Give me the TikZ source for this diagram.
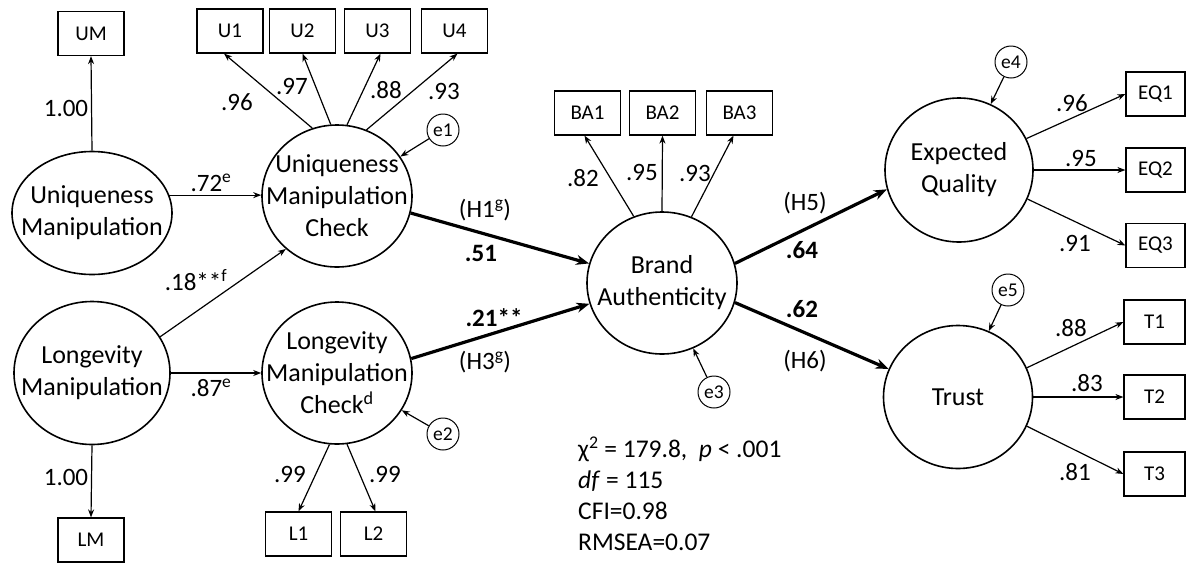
\documentclass[tikz,border=0pt]{standalone}
\usepackage{fontspec}
\setmainfont{Carlito}
\usetikzlibrary{shapes.geometric,arrows.meta}

\begin{document}
\begin{tikzpicture}[x=1pt,y=-1pt,
    latent/.style={ellipse,draw,line width=1.6pt,inner sep=0pt,minimum width=150pt,minimum height=142pt,
        label={[align=center,font=\fontsize{26}{32}\selectfont]center:#1}},
    ind/.style={draw,line width=1.2pt,minimum width=66pt,minimum height=44pt,inner sep=0pt,font=\fontsize{21}{24}\selectfont},
    err/.style={circle,draw,line width=1pt,minimum size=32pt,inner sep=0pt,font=\fontsize{19.5}{20}\selectfont},
    load/.style={line width=1.2pt,-{Stealth[length=8pt,width=6pt]}},
    hyp/.style={line width=3.2pt,-{Stealth[length=13pt,width=10pt]}},
    coef/.style={inner sep=0pt,font=\fontsize{25}{28}\selectfont}]
    \useasboundingbox (0,0) rectangle (1186,563);

    % latent variables
    \node[latent={Uniqueness\\Manipulation},minimum width=160pt,minimum height=123pt] (UMan) at (92,213) {};
    \node[latent={Longevity\\Manipulation},minimum width=156pt,minimum height=143pt] (LMan) at (92,373) {};
    \node[latent={Uniqueness\\Manipulation\\Check}] (UMC) at (337,196) {};
    \node[latent={Longevity\\Manipulation\\Check\textsuperscript{d}}] (LMC) at (337,373) {};
    \node[latent={Brand\\Authenticity}] (BA) at (662,283) {};
    \node[latent={Expected\\Quality},minimum width=148pt,minimum height=144pt] (EQ) at (959,170) {};
    \node[latent={Trust},minimum width=149pt,minimum height=143pt] (Trust) at (958,397) {};

    % indicators
    \node[ind] (UM) at (91,33.5) {UM};
    \node[ind] (LM) at (91,540) {LM};
    \node[ind] (U1) at (230,31) {U1};
    \node[ind] (U2) at (302.5,31) {U2};
    \node[ind] (U3) at (377.5,31) {U3};
    \node[ind] (U4) at (454.5,31) {U4};
    \node[ind] (L1) at (298.5,534) {L1};
    \node[ind] (L2) at (373.5,534) {L2};
    \node[ind] (BA1) at (587.5,113) {BA1};
    \node[ind] (BA2) at (662.5,113) {BA2};
    \node[ind] (BA3) at (739.5,113) {BA3};
    \node[ind,minimum width=59pt] (EQ1) at (1155.5,94) {EQ1};
    \node[ind,minimum width=59pt] (EQ2) at (1155.5,170) {EQ2};
    \node[ind,minimum width=59pt] (EQ3) at (1155.5,245.5) {EQ3};
    \node[ind,minimum width=61pt] (T1) at (1154.5,322) {T1};
    \node[ind,minimum width=61pt] (T2) at (1154.5,397) {T2};
    \node[ind,minimum width=61pt] (T3) at (1154.5,474) {T3};

    % error terms
    \node[err] (e1) at (443,130) {e1};
    \node[err] (e2) at (443,434) {e2};
    \node[err] (e3) at (714,392) {e3};
    \node[err] (e4) at (1011,62) {e4};
    \node[err] (e5) at (1008,290) {e5};

    % loadings
    \draw[load] (UMan.north) -- (UM.south);
    \draw[load] (LMan.south) -- (LM.north);
    \draw[load] (UMC.110) -- ([xshift=-6pt]U1.south);
    \draw[load] (UMC.95) -- (U2.south);
    \draw[load] (UMC.82) -- ([xshift=3pt]U3.south);
    \draw[load] (UMC.66) -- ([xshift=3pt]U4.south);
    \draw[load] (LMC.264) -- (L1.north);
    \draw[load] (LMC.278) -- ([xshift=2pt]L2.north);
    \draw[load] (BA.113) -- ([xshift=-3pt]BA1.south);
    \draw[load] (BA.90) -- (BA2.south);
    \draw[load] (BA.66) -- ([xshift=-6pt]BA3.south);
    \draw[load] (EQ.25) -- (EQ1.west);
    \draw[load] (EQ.east) -- (EQ2.west);
    \draw[load] (EQ.-23) -- (EQ3.west);
    \draw[load] (Trust.23) -- (T1.west);
    \draw[load] (Trust.east) -- (T2.west);
    \draw[load] (Trust.-23) -- (T3.west);

    % manipulation paths
    \draw[load] (UMan.13) -- (UMan.13 -| UMC.west);
    \draw[load] (LMan.east) -- (LMC.west);
    \draw[load] (LMan.28) -- (UMC.226);

    % error arrows
    \draw[load] (e1) -- (UMC);
    \draw[load] (e2) -- (LMC);
    \draw[load] (e3) -- (BA);
    \draw[load] (e4) -- (EQ);
    \draw[load] (e5) -- (Trust);

    % hypotheses
    \draw[hyp] (UMC.-13) -- (BA.165);
    \draw[hyp] (LMC.11) -- (BA.196);
    \draw[hyp] (BA.15) -- (EQ.195);
    \draw[hyp] (BA.-15) -- (Trust.158);

    % coefficients
    \node[coef] (cUM) at (66,108) {1.00};
    \node[coef] (cLM) at (66,477) {1.00};
    \node[coef] (cU1) at (237,102) {.96};
    \node[coef] (cU2) at (292,86) {.97};
    \node[coef] (cU3) at (386,90) {.88};
    \node[coef] (cU4) at (444,91) {.93};
    \node[coef] (cUU) at (211,183) {.72\textsuperscript{e}};
    \node[coef] (cLU) at (196,280) {.18**\textsuperscript{f}};
    \node[coef] (cLL) at (211,388) {.87\textsuperscript{e}};
    \node[coef] (cL1) at (290,474) {.99};
    \node[coef] (cL2) at (385,474) {.99};
    \node[coef] (hH1) at (485,210) {(H1\textsuperscript{g})};
    \node[coef] (cH1) at (481,253) {\textbf{.51}};
    \node[coef] (cH3) at (494,318) {\textbf{.21**}};
    \node[coef] (hH3) at (485,362) {(H3\textsuperscript{g})};
    \node[coef] (cBA1) at (583,178) {.82};
    \node[coef] (cBA2) at (642,172) {.95};
    \node[coef] (cBA3) at (695,173) {.93};
    \node[coef] (hH5) at (805,203) {(H5)};
    \node[coef] (cH5) at (802,250) {\textbf{.64}};
    \node[coef] (cH6) at (802,309) {\textbf{.62}};
    \node[coef] (hH6) at (805,361) {(H6)};
    \node[coef] (cEQ1) at (1072,103) {.96};
    \node[coef] (cEQ2) at (1081,158) {.95};
    \node[coef] (cEQ3) at (1075,243) {.91};
    \node[coef] (cT1) at (1071,328) {.88};
    \node[coef] (cT2) at (1087,383) {.83};
    \node[coef] (cT3) at (1075,472) {.81};

    % fit indices
    \node[coef,anchor=north west,align=left,font=\fontsize{25.5}{31}\selectfont] (fit) at (578,437)
        {χ\textsuperscript{2} = 179.8,\ \ \textit{p} < .001\\\textit{df} = 115\\CFI=0.98\\RMSEA=0.07};
\end{tikzpicture}
\end{document}
